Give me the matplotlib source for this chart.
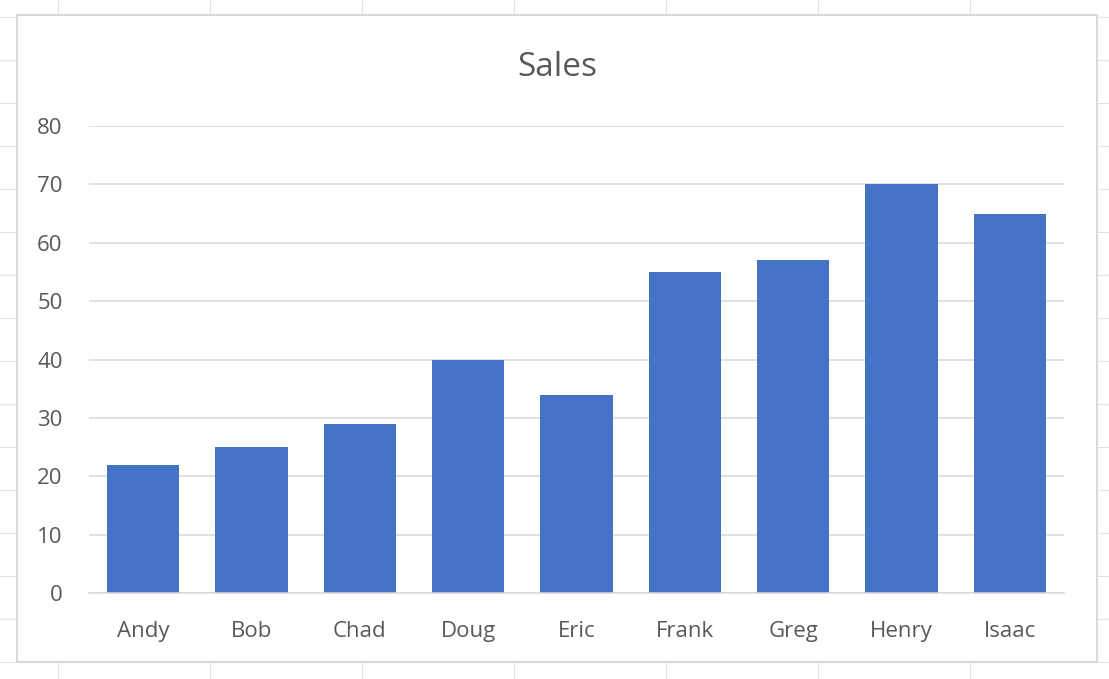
import matplotlib.pyplot as plt
import numpy as np
from matplotlib.lines import Line2D
from matplotlib.patches import Rectangle

names = ["Andy", "Bob", "Chad", "Doug", "Eric", "Frank", "Greg", "Henry", "Isaac"]
sales = [22, 25, 29, 40, 34, 55, 57, 70, 65]
y_ticks = [0, 10, 20, 30, 40, 50, 60, 70, 80]

W, H = 1109, 679
plt.rcParams["font.family"] = ["Open Sans", "DejaVu Sans"]

fig = plt.figure(figsize=(W / 100, H / 100), dpi=100)

# spreadsheet cell grid behind the chart
sheet_color = "#e3e3e3"
for xv in range(58, W, 152):
    fig.add_artist(Line2D([xv / W, xv / W], [0, 1], color=sheet_color, lw=0.8, zorder=0))
for yv in range(17, H, 43):
    fig.add_artist(Line2D([0, 1], [1 - yv / H, 1 - yv / H], color=sheet_color, lw=0.8, zorder=0))

# chart area (white box with light border)
fig.add_artist(Rectangle((17 / W, 1 - 662 / H), (1097 - 17) / W, (662 - 15) / H,
                         facecolor="white", edgecolor="#d9d9d9", lw=1.5, zorder=1))

ax = fig.add_axes([89 / W, 1 - 593 / H, (1064 - 89) / W, (593 - 126) / H], zorder=2)
ax.patch.set_visible(False)

x = np.arange(len(names))
ax.bar(x, sales, width=0.665, color="#4472c4", zorder=3)

ax.set_xlim(-0.5, len(names) - 0.5)
ax.set_ylim(0, 80)
ax.set_yticks(y_ticks)
ax.set_xticks(x)
ax.set_xticklabels(names)

for s in ["top", "right", "left"]:
    ax.spines[s].set_visible(False)
ax.spines["bottom"].set_color("#d9d9d9")
ax.spines["bottom"].set_linewidth(1.1)
ax.spines["bottom"].set_zorder(4)

ax.grid(axis="y", color="#d9d9d9", linewidth=1.1, zorder=0)
ax.set_axisbelow(True)
ax.tick_params(axis="both", length=0, labelsize=16, colors="#595959")
ax.tick_params(axis="y", pad=19)
ax.tick_params(axis="x", pad=20)

# title is centred on the chart area, not the plot area
fig.text(557 / W, 1 - 67 / H, "Sales", ha="center", va="center",
         fontsize=24, color="#595959")

fig.savefig("out.png", dpi=100)
